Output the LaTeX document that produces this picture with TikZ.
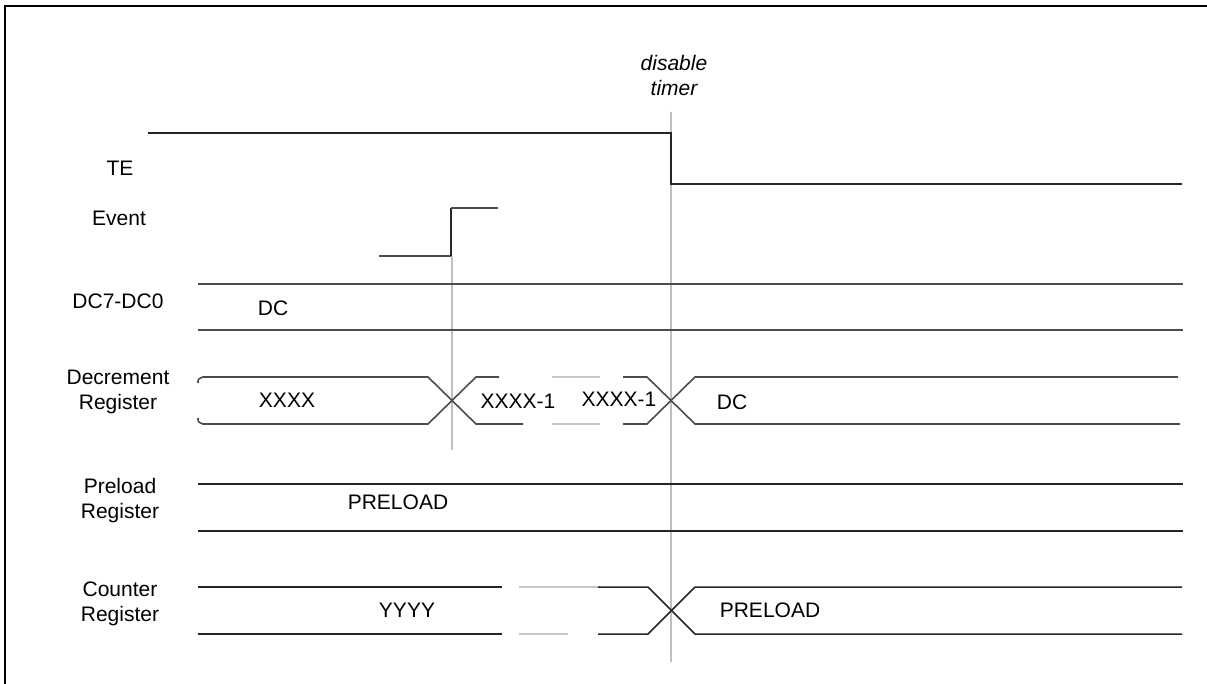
\documentclass[tikz,border=0pt]{standalone}
\usepackage{fontspec}
\setmainfont{Liberation Sans}
\begin{document}
\begin{tikzpicture}[x=1pt,y=-1pt,
  wave/.style={line width=1.5pt,black!85},
  wavedk/.style={line width=1.6pt,black!70},
  gapline/.style={line width=1.5pt,black!22},
  guide/.style={line width=1.8pt,black!25},
  lbl/.style={font=\fontsize{21}{25}\selectfont,align=center,inner sep=0pt},
  val/.style={font=\fontsize{21}{25}\selectfont,inner sep=0pt}]
\useasboundingbox (0,0) rectangle (1207,684);
% frame
\draw[line width=2.6pt,black] (1207,6) -- (5,6) -- (5,684);
% guide lines
\draw[guide] (452,256) -- (452,450);
\draw[guide] (671,112) -- (671,662);
% labels
\node[lbl,font=\fontsize{21}{25}\selectfont\itshape] (dis) at (674,75) {disable\\timer};
\node[lbl] (te) at (120,168) {TE};
\node[lbl] (ev) at (119,218) {Event};
\node[lbl] (dc) at (118,301) {DC7-DC0};
\node[lbl] (dr) at (118,392) {Decrement\\Register};
\node[lbl] (pr) at (120,501) {Preload\\Register};
\node[lbl] (cr) at (120,604) {Counter\\Register};
% TE
\draw[wave] (148,133) -- (671,133) -- (671,184) -- (1182,184);
% Event
\draw[wavedk] (379,256) -- (451,256);
\draw[wave] (451,256) -- (451,208);
\draw[wavedk] (451,208) -- (498,208);
% DC7-DC0
\draw[wavedk] (198,284) -- (1183,284);
\draw[wavedk] (198,330) -- (1183,330);
\node[val] (vdc) at (273,308) {DC};
% Decrement register
\draw[wavedk] (198,383) .. controls (198,379) .. (203,377) -- (428,377) -- (476,424) -- (523,424);
\draw[wavedk] (198,418) .. controls (198,422) .. (203,424) -- (428,424) -- (476,377) -- (499,377);
\draw[gapline] (552,377) -- (600,377);
\draw[gapline] (552,424) -- (600,424);
\draw[wavedk] (623,377) -- (647,377) -- (695,424) -- (1180,424);
\draw[wavedk] (623,424) -- (647,424) -- (695,377) -- (1178,377);
\node[val] (vx) at (287,400) {XXXX};
\node[val] (vx1) at (518,401) {XXXX-1};
\node[val] (vx2) at (619,399) {XXXX-1};
\node[val] (vdc2) at (732,402) {DC};
% Preload register
\draw[wave] (198,484) -- (1183,484);
\draw[wave] (198,531) -- (1183,531);
\node[val] (vpl) at (398,502) {PRELOAD};
% Counter register
\draw[wave] (198,587) -- (502,587);
\draw[wave] (198,634) -- (502,634);
\draw[gapline] (519,587) -- (600,587);
\draw[gapline] (519,634) -- (568,634);
\draw[wave] (598,587) -- (648,587) -- (695,634) -- (1182,634);
\draw[wave] (598,634) -- (648,634) -- (695,587) -- (1182,587);
\node[val] (vy) at (407,610) {YYYY};
\node[val] (vpl2) at (770,610) {PRELOAD};
\end{tikzpicture}
\end{document}
